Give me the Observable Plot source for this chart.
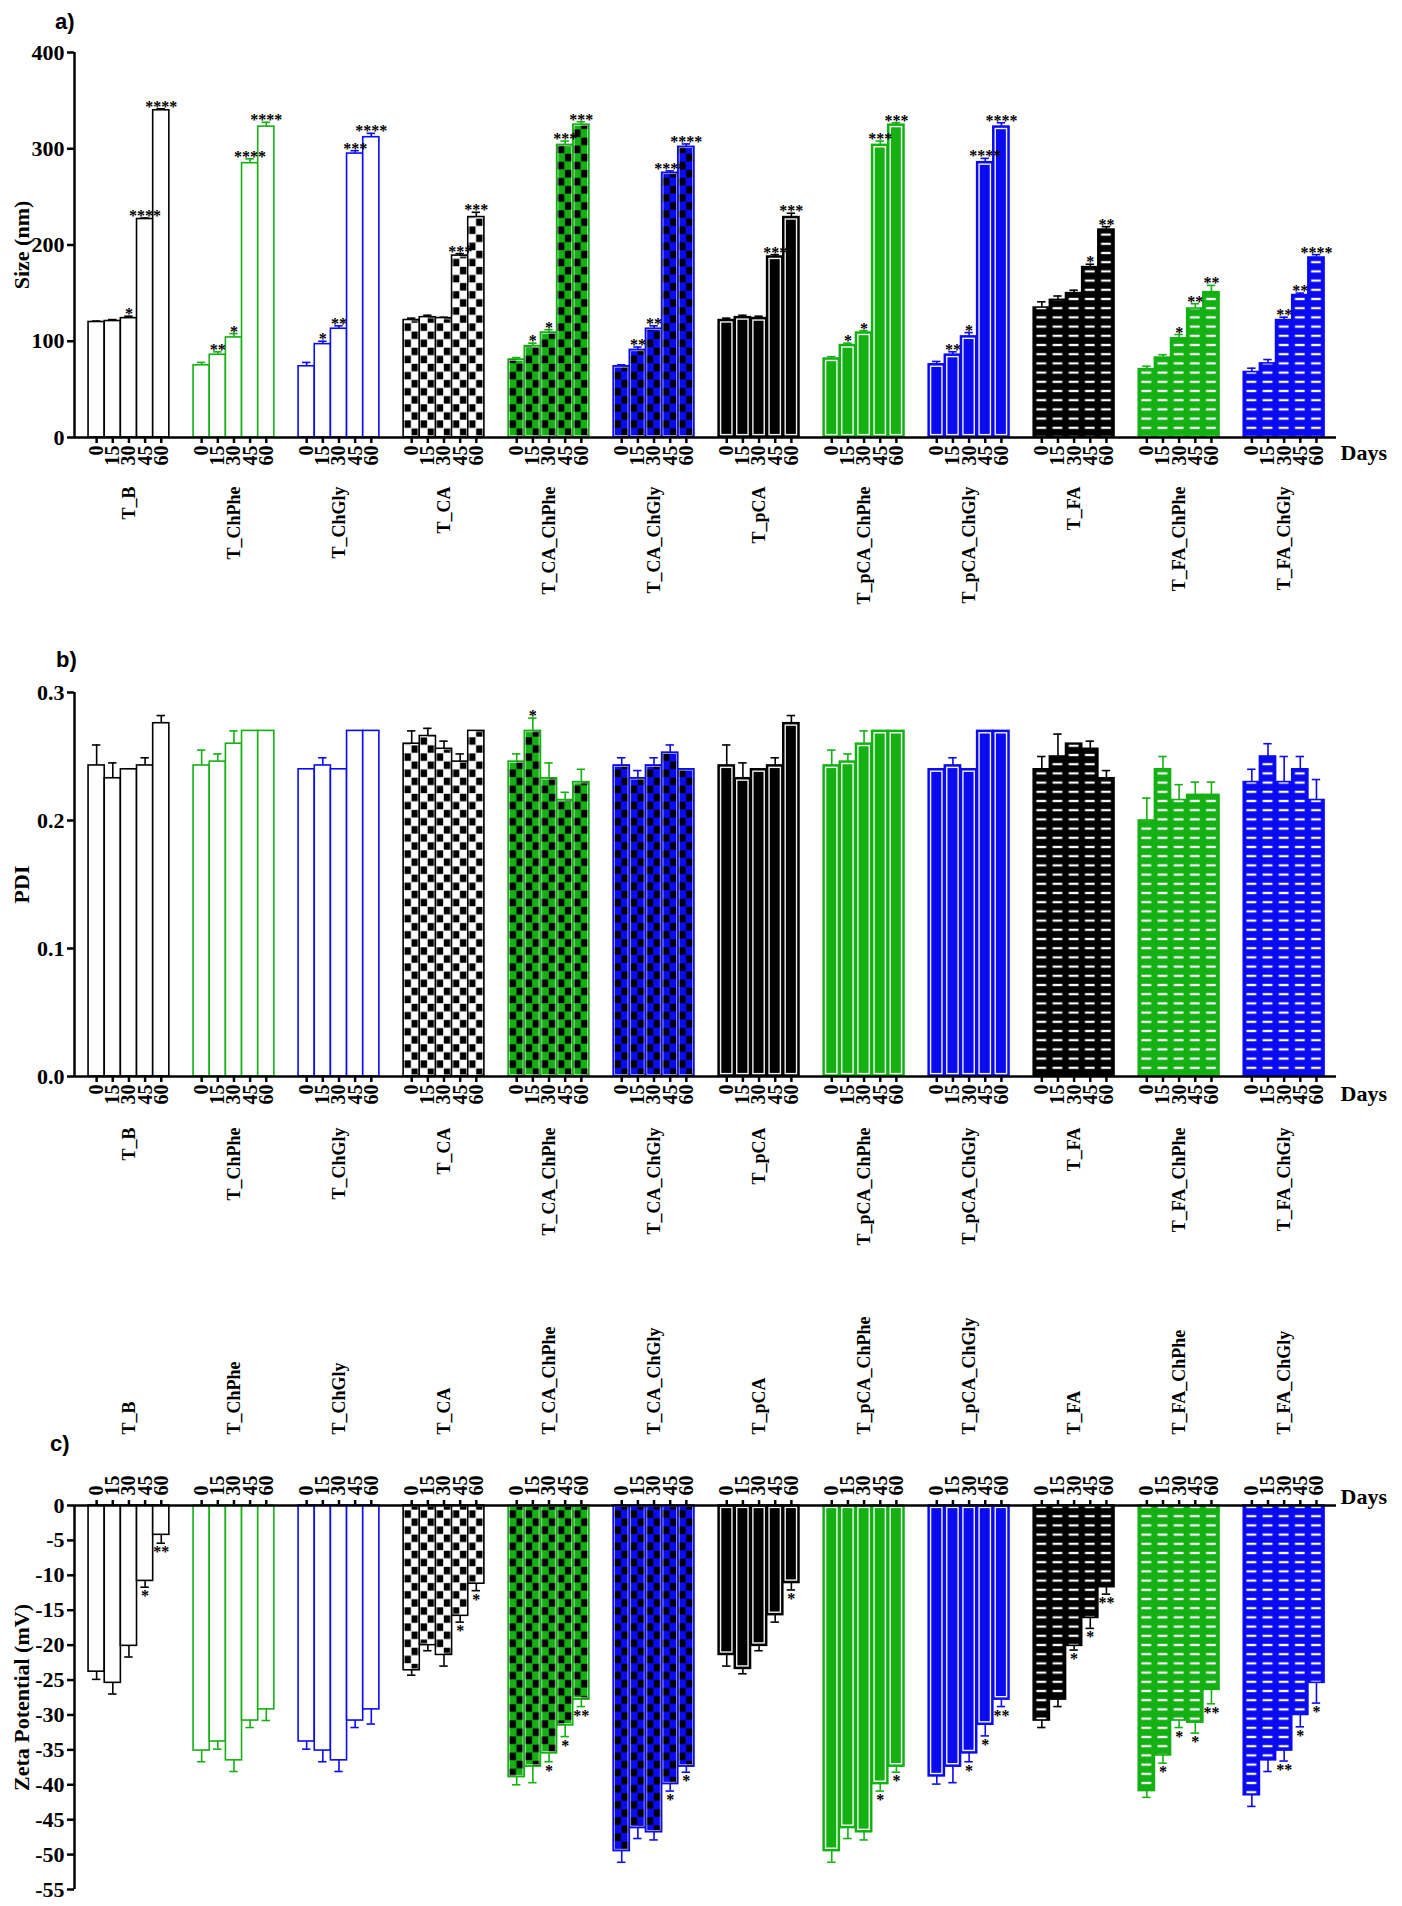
<!DOCTYPE html>
<html><head><meta charset="utf-8">
<script src="https://cdn.jsdelivr.net/npm/d3@7"></script>
<script src="https://cdn.jsdelivr.net/npm/@observablehq/plot@0.6"></script>
<style>
html,body{margin:0;background:#fff;}
#wrap{position:relative;width:1402px;height:1906px;overflow:hidden;background:#fff;}
.panel{position:absolute;left:0;}
.plab{position:absolute;font-family:"Liberation Sans",Arial,sans-serif;font-weight:bold;font-size:22px;line-height:22px;}
g[aria-label="y-axis tick"] path, g[aria-label="x-axis tick"] path{stroke-width:2.5px;}
</style></head>
<body><div id="wrap"></div>
<script>
// ---------- data ----------
const groups = ["T_B","T_ChPhe","T_ChGly","T_CA","T_CA_ChPhe","T_CA_ChGly","T_pCA","T_pCA_ChPhe","T_pCA_ChGly","T_FA","T_FA_ChPhe","T_FA_ChGly"];
const days = [0, 15, 30, 45, 60];
const palette = ["#000000", "#14b014", "#0b0bf2"];

const sizeMean = [
  [120,121,124,227,340],[75,86,104,285,323],[74,97,113,295,312],
  [122,125,124,189,229],[81,95,109,304,325],[74,91,113,275,302],
  [122,125,124,188,229],[82,96,109,304,325],[76,86,105,286,323],
  [135,143,150,177,216],[71,83,103,134,151],[68,77,122,148,187]];
const sizeErr = [
  [1,1.5,2,1,1.5],[3,3,4,4.5,4.5],[4,3,3,3,4],
  [2,2,1,2,5],[2,3,3,4,3],[1.5,3,3,2,3],
  [2,2,2,2,4],[2,2,2,4,2],[3,3,4,4,4],
  [6,4,3,3,3],[3,3,4,5,7],[4,4,3,2,3]];
const sizeSig = [
  ["","","*","****","****"],["","**","*","****","****"],["","*","**","***","****"],
  ["","","","***","***"],["","*","*","***","***"],["","**","**","****","****"],
  ["","","","***","***"],["","*","*","***","***"],["","**","*","****","****"],
  ["","","","*","**"],["","","*","**","**"],["","","**","**","****"]];

const pdiMean = [
  [0.243,0.233,0.240,0.243,0.276],[0.243,0.246,0.260,0.270,0.270],[0.240,0.243,0.240,0.270,0.270],
  [0.260,0.266,0.256,0.246,0.270],[0.246,0.270,0.233,0.216,0.230],[0.243,0.233,0.243,0.253,0.240],
  [0.243,0.233,0.240,0.243,0.276],[0.243,0.246,0.260,0.270,0.270],[0.240,0.243,0.240,0.270,0.270],
  [0.240,0.250,0.260,0.256,0.233],[0.200,0.240,0.216,0.220,0.220],[0.230,0.250,0.230,0.240,0.216]];
const pdiErr = [
  [0.016,0.012,0,0.006,0.006],[0.012,0.006,0.010,0,0],[0,0.006,0,0,0],
  [0.010,0.006,0.006,0.006,0],[0.006,0.010,0.012,0.006,0.010],[0.006,0.006,0.006,0.006,0],
  [0.016,0.012,0,0.006,0.006],[0.012,0.006,0.010,0,0],[0,0.006,0,0,0],
  [0.010,0.0175,0,0.006,0.006],[0.0175,0.010,0.012,0.010,0.010],[0.010,0.010,0.020,0.010,0.016]];
const pdiSig = [
  ["","","","",""],["","","","",""],["","","","",""],
  ["","","","",""],["","*","","",""],["","","","",""],
  ["","","","",""],["","","","",""],["","","","",""],
  ["","","","",""],["","","","",""],["","","","",""]];

const zetaMean = [
  [-23.8,-25.4,-20.1,-10.8,-4.2],[-35.1,-33.8,-36.5,-30.8,-29.2],[-33.8,-35.1,-36.5,-30.8,-29.2],
  [-23.6,-20.0,-21.4,-15.8,-11.2],[-38.9,-37.4,-35.5,-31.5,-27.8],[-49.5,-46.2,-46.8,-39.9,-37.4],
  [-21.4,-23.4,-20.1,-15.7,-11.1],[-49.5,-46.2,-46.8,-39.9,-37.4],[-38.8,-37.4,-35.5,-31.4,-27.8],
  [-30.8,-27.8,-20.1,-16.1,-11.7],[-40.9,-35.8,-30.8,-31.1,-26.4],[-41.5,-36.5,-35.1,-30.0,-25.4]];
const zetaErr = [
  [1.1,1.6,1.6,0.9,1.2],[1.6,1.1,1.6,1.0,1.6],[1.1,1.6,1.6,1.0,2.1],
  [0.7,0.8,1.6,0.9,1.0],[1.1,2.3,1.2,1.6,1.0],[1.6,1.5,1.1,1.0,0.8],
  [1.6,0.7,0.7,1.0,1.0],[1.6,1.5,1.1,1.0,0.8],[1.1,2.3,1.2,1.6,1.0],
  [1.0,1.0,0.6,1.5,1.0],[0.9,1.1,1.0,1.5,2.0],[1.6,1.6,1.5,1.7,2.9]];
const zetaSig = [
  ["","","","*","**"],["","","","",""],["","","","",""],
  ["","","","*","*"],["","","*","*","**"],["","","","*","*"],
  ["","","","","*"],["","","","*","*"],["","","*","*","**"],
  ["","","*","*","**"],["","*","*","*","**"],["","","**","*","*"]];

const sizeTicks = [0,100,200,300,400];
const pdiTicks = [0,0.1,0.2,0.3];
const zetaTicks = [0,-5,-10,-15,-20,-25,-30,-35,-40,-45,-50,-55];

// ---------- drawing ----------
const W = 1402, ML = 74, MR = 66;
const XMIN = -1.37, XMAX = 76.74, STEP = 6.5;
const SERIF = '"Liberation Serif","Times New Roman",serif';

function makePanel(o) {
  const {means, errs, sigs, domain, ticks, tickFmt, title, height, mt, mb, neg, pid, groupDy, dayDy, daysDy} = o;
  const xpx = u => ML + (u - XMIN) / (XMAX - XMIN) * (W - ML - MR);
  const bw = xpx(1) - xpx(0);
  const rows = [];
  groups.forEach((group, gi) => days.forEach((day, di) => rows.push({
    group, gi, day, di, u: gi * STEP + di,
    value: means[gi][di], err: errs[gi][di], sig: sigs[gi][di]})));
  const groupRows = groups.map((group, gi) => ({group, gi, u: gi * STEP + 2}));
  const sign = neg ? -1 : 1;
  const col = d => palette[d.gi % 3];
  const sty = d => Math.floor(d.gi / 3);
  const fill = d => sty(d) === 0 ? "white" : sty(d) === 2 ? col(d) : `url(#${pid}-${d.gi})`;
  const end = d => d.value + sign * d.err;
  const errRows = rows.filter(d => d.err > 0);
  const sigRows = rows.filter(d => d.sig);

  const chart = Plot.plot({
    width: W, height, marginLeft: ML, marginRight: MR, marginTop: mt, marginBottom: mb,
    style: {fontFamily: SERIF, fontWeight: "bold", fontSize: "22px", background: "white", overflow: "visible", color: "black"},
    color: {type: "identity"},
    x: {domain: [XMIN, XMAX], axis: neg ? "top" : "bottom", ticks: rows.map(d => d.u), tickSize: 6, tickFormat: () => "", label: null},
    y: {domain, ticks, tickSize: 7, tickPadding: 3, tickFormat: tickFmt, label: null},
    marks: [
      Plot.rect(rows, {x1: d => d.u - 0.5, x2: d => d.u + 0.5, y1: 0, y2: "value", fill, stroke: col, strokeWidth: 1.6}),
      Plot.rect(rows.filter(d => sty(d) === 2), {x1: d => d.u - 0.5, x2: d => d.u + 0.5, y1: 0, y2: "value",
        fill: "none", stroke: "white", strokeWidth: 1.4, inset: 2.4, strokeOpacity: 0.95}),
      Plot.rect(rows.filter(d => sty(d) === 1), {x1: d => d.u - 0.5, x2: d => d.u + 0.5, y1: 0, y2: "value",
        fill: "none", stroke: "white", strokeWidth: 0.7, inset: 1.4, strokeOpacity: 0.8}),
      Plot.ruleX(errRows, {x: "u", y1: "value", y2: end, stroke: col, strokeWidth: 1.6}),
      Plot.ruleY(errRows, {y: end, x1: d => d.u - 0.26, x2: d => d.u + 0.26, stroke: col, strokeWidth: 1.6}),
      Plot.text(sigRows, {x: "u", y: end, text: "sig", fontSize: 16, fontWeight: "bold", fill: "black", lineAnchor: "bottom", dy: neg ? 14 : 3}),
      Plot.ruleX([XMIN], {x: d => d, y1: domain[0], y2: domain[1], strokeWidth: 2.5, stroke: "black"}),
      Plot.ruleY([0], {y: d => d, x1: XMIN, x2: XMAX, strokeWidth: 2.5, stroke: "black"}),
      Plot.text(rows, {x: "u", y: d => 0, text: d => String(d.day), rotate: -90, textAnchor: neg ? "start" : "end",
        dy: dayDy, fontSize: 20, fontWeight: "bold", fill: "black"}),
      Plot.text(groupRows, {x: "u", y: d => 0, text: "group", rotate: -90, textAnchor: neg ? "start" : "end",
        dy: groupDy, fontSize: 18, fontWeight: "bold", fill: "black"}),
      Plot.text(["Days"], {frameAnchor: neg ? "top-right" : "bottom-right", text: d => d, textAnchor: "start",
        dx: 4, dy: daysDy, fontSize: 22, fontWeight: "bold", fill: "black"}),
      Plot.text([title], {frameAnchor: "left", text: d => d, rotate: -90, textAnchor: "middle", dx: -53, fontSize: 22, fontWeight: "bold", fill: "black"})
    ]
  });

  // fill patterns (aligned to each group's first bar)
  const ns = "http://www.w3.org/2000/svg";
  const defs = document.createElementNS(ns, "defs");
  const mk = (tag, attrs, parent) => { const e = document.createElementNS(ns, tag); for (const k in attrs) e.setAttribute(k, attrs[k]); parent.appendChild(e); return e; };
  groups.forEach((g, gi) => {
    const st = Math.floor(gi / 3), c = palette[gi % 3];
    if (st !== 1 && st !== 3) return;
    const x0 = xpx(gi * STEP - 0.5);
    if (st === 1) {
      const h = bw;
      const p = mk("pattern", {id: `${pid}-${gi}`, patternUnits: "userSpaceOnUse", x: x0, y: 0, width: bw, height: h}, defs);
      mk("rect", {x: 0, y: 0, width: bw, height: h, fill: gi === 3 ? "white" : c}, p);
      const cs = bw / 2, s = cs - 0.6, off = 0.3;
      mk("rect", {x: off, y: off, width: s, height: s, fill: "black"}, p);
      mk("rect", {x: cs + off, y: cs + off, width: s, height: s, fill: "black"}, p);
    } else {
      const h = 9.2;
      const p = mk("pattern", {id: `${pid}-${gi}`, patternUnits: "userSpaceOnUse", x: x0, y: 0, width: bw, height: h}, defs);
      mk("rect", {x: 0, y: 0, width: bw, height: h, fill: c}, p);
      mk("rect", {x: bw * 0.2, y: 3.5, width: bw * 0.6, height: 2.2, fill: "white"}, p);
    }
  });
  chart.insertBefore(defs, chart.firstChild);
  return chart;
}

const wrap = document.getElementById("wrap");
function place(el, top) { el.classList.add("panel"); el.style.top = top + "px"; wrap.appendChild(el); }
function label(txt, left, top) { const d = document.createElement("div"); d.className = "plab"; d.textContent = txt; d.style.left = left + "px"; d.style.top = top + "px"; wrap.appendChild(d); }

place(makePanel({means: sizeMean, errs: sizeErr, sigs: sizeSig, domain: [0, 400], ticks: sizeTicks,
  tickFmt: d => String(d), title: "Size (nm)", height: 640, mt: 52, mb: 203, neg: false, pid: "pa",
  groupDy: 49, dayDy: 8, daysDy: 22}), 0);
place(makePanel({means: pdiMean, errs: pdiErr, sigs: pdiSig, domain: [0, 0.3], ticks: pdiTicks,
  tickFmt: d => d.toFixed(1), title: "PDI", height: 660, mt: 52, mb: 224, neg: false, pid: "pb",
  groupDy: 51, dayDy: 8, daysDy: 24}), 640);
place(makePanel({means: zetaMean, errs: zetaErr, sigs: zetaSig, domain: [-55, 0], ticks: zetaTicks,
  tickFmt: d => String(d), title: "Zeta Potential (mV)", height: 606, mt: 205, mb: 17, neg: true, pid: "pc",
  groupDy: -71, dayDy: -10, daysDy: -17}), 1300);

label("a)", 55, 11);
label("b)", 56, 649);
label("c)", 50, 1433);
</script>
</body></html>
